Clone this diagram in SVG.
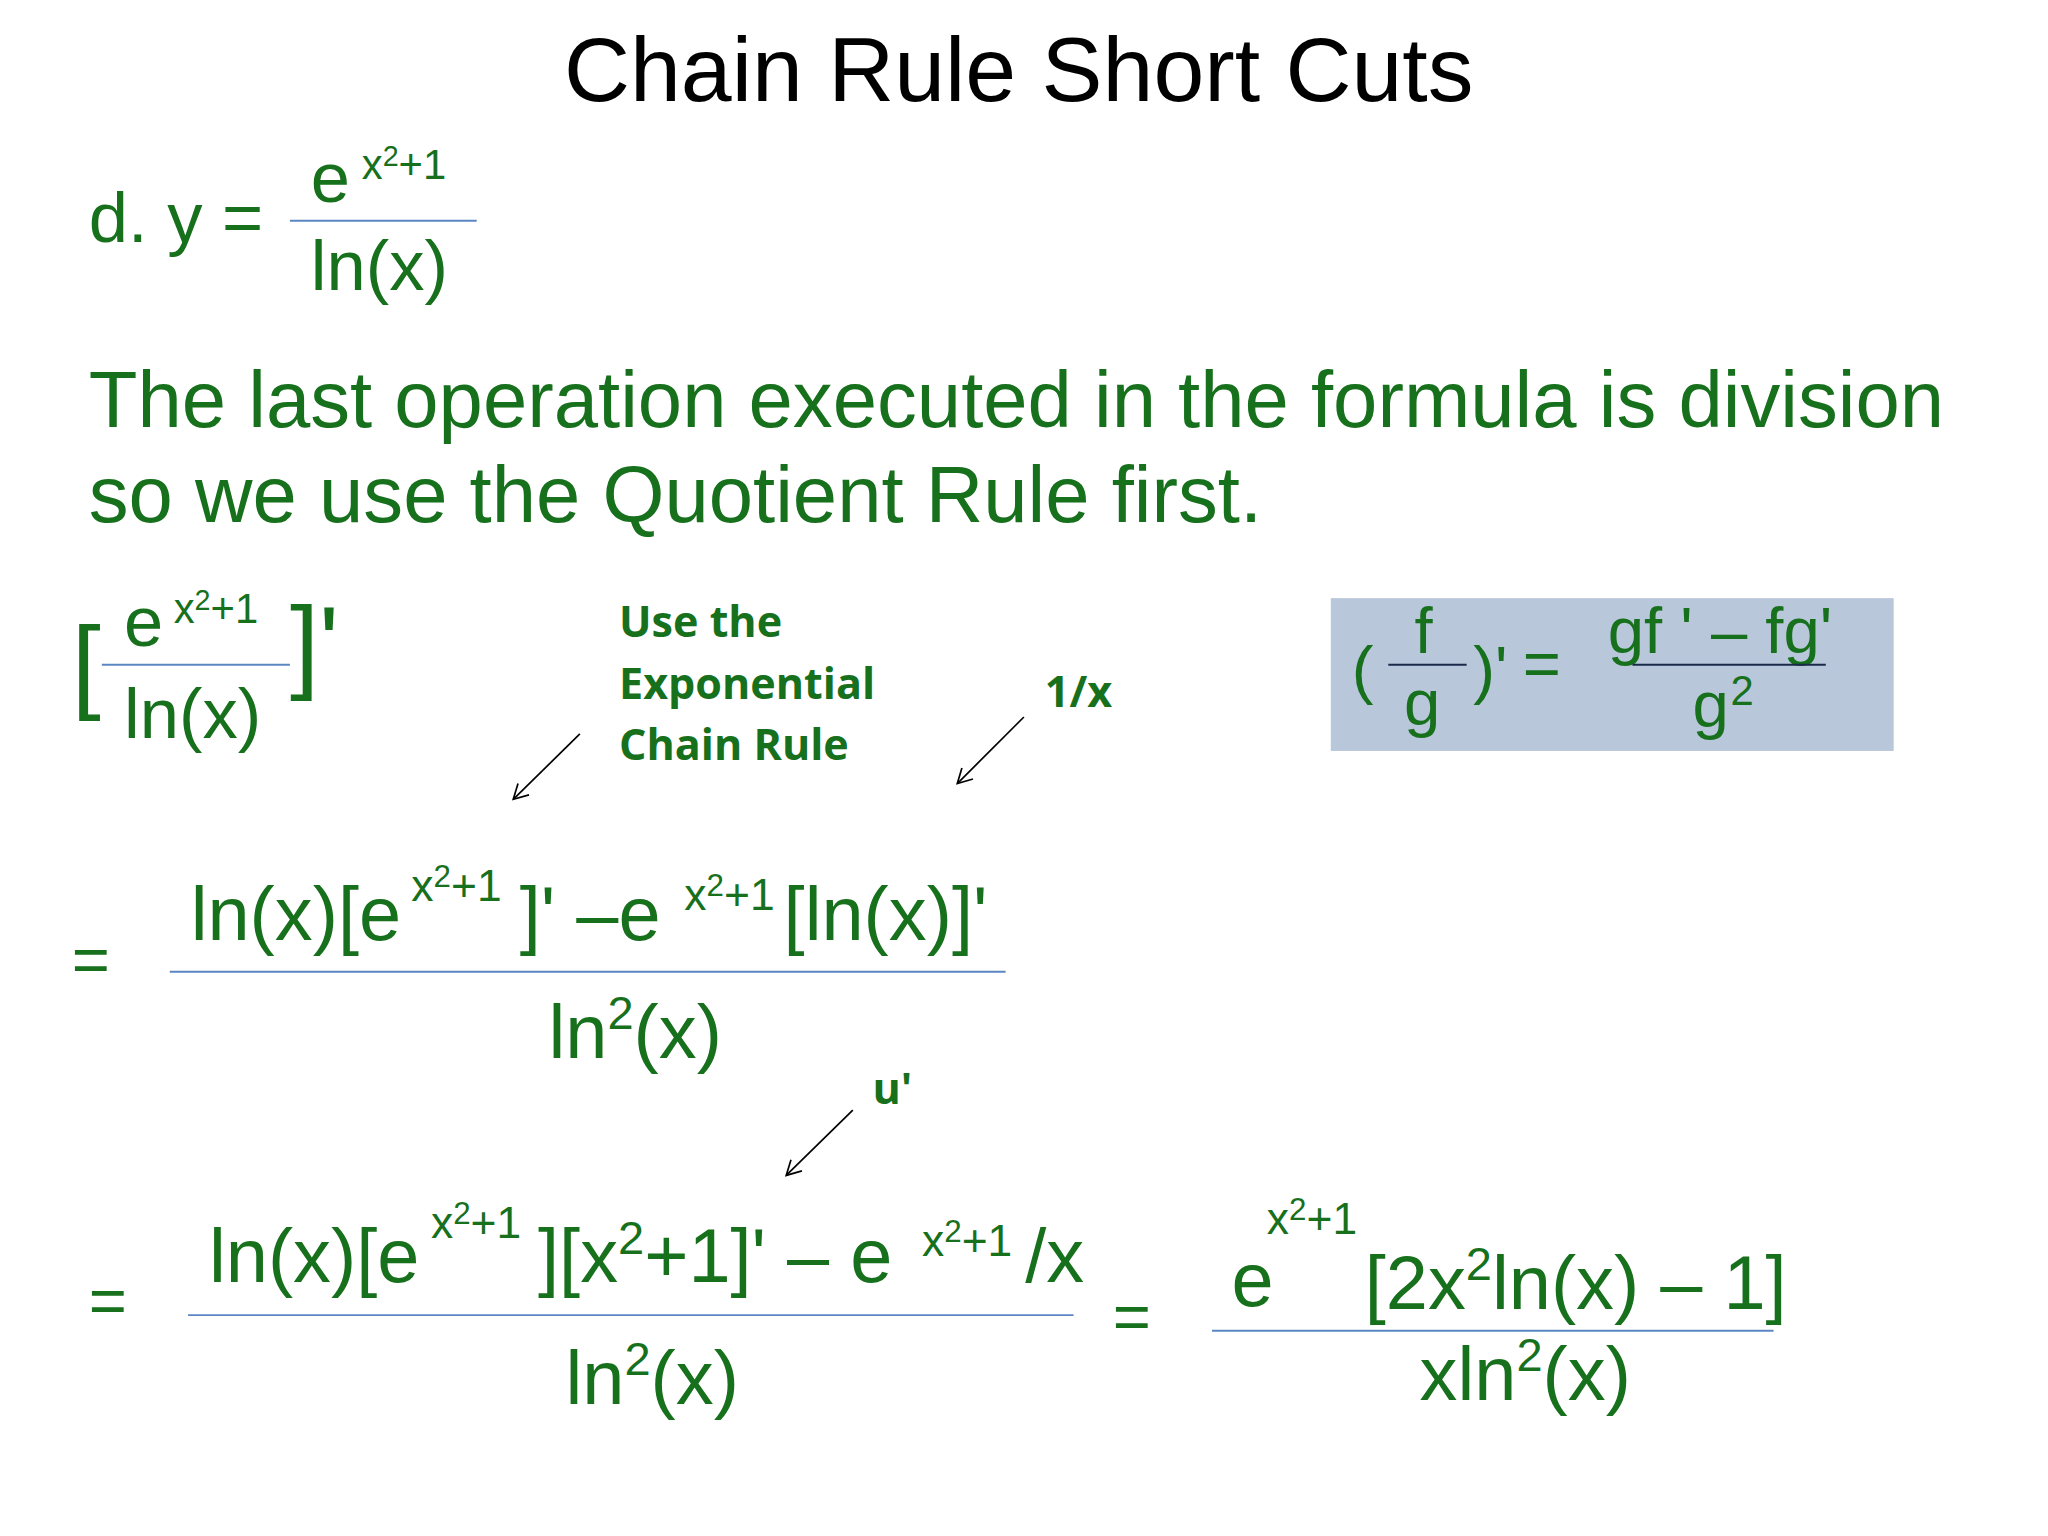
<svg xmlns="http://www.w3.org/2000/svg" width="2048" height="1536" viewBox="0 0 2048 1536">
<style>
.g{font-family:"Liberation Sans",Arial,sans-serif;fill:#17701c}
.b{font-family:"Open Sans","Liberation Sans",sans-serif;font-weight:bold;fill:#17701c;font-size:33px}
.fl{stroke:#5b86c4;stroke-width:1.5}
.ar{stroke:#000;stroke-width:1.3;fill:none;marker-end:url(#ah)}
</style>
<defs><marker id="ah" markerWidth="14" markerHeight="14" refX="12" refY="7" orient="auto" markerUnits="userSpaceOnUse"><path d="M1,1 L12,7 L1,13" fill="none" stroke="#000" stroke-width="1.3"/></marker></defs>
<rect width="2048" height="1536" fill="#fff"/>
<g transform="scale(1.306)">
<text x="780" y="77" font-family="Liberation Sans,Arial,sans-serif" font-size="70" text-anchor="middle" fill="#000">Chain Rule Short Cuts</text>
<g id="q">
<text class="g" x="68" y="185" font-size="54">d. y =</text>
<text class="g" x="238" y="155" font-size="54">e</text>
<text class="g" x="277" y="137" font-size="32">x<tspan font-size="22" dy="-10">2</tspan><tspan dy="10">+1</tspan></text>
<line class="fl" x1="222" y1="169" x2="365" y2="169"/>
<text class="g" x="238" y="222" font-size="54">ln(x)</text>
</g>
<g id="para">
<text class="g" x="68" y="327" font-size="61">The last operation executed in the formula is division</text>
<text class="g" x="68" y="400" font-size="61">so we use the Quotient Rule first.</text>
</g>
<g id="br">
<text class="g" x="55" y="535" font-size="80">[</text>
<text class="g" x="95" y="495" font-size="54">e</text>
<text class="g" x="133" y="477" font-size="32">x<tspan font-size="22" dy="-10">2</tspan><tspan dy="10">+1</tspan></text>
<line class="fl" x1="78" y1="509" x2="222" y2="509"/>
<text class="g" x="95" y="565" font-size="54">ln(x)</text>
<text class="g" x="222" y="520" font-size="80">]'</text>
</g>
<g id="labels">
<text class="b" x="474" y="488">Use the</text>
<text class="b" x="474" y="535">Exponential</text>
<text class="b" x="474" y="582">Chain Rule</text>
<text class="b" x="800" y="541">1/x</text>
<text class="b" x="668" y="845">u'</text>
</g>
<g id="box">
<rect x="1019" y="458" width="431" height="117" fill="#b9c7da"/>
<text class="g" x="1035" y="530" font-size="50">(</text>
<text class="g" x="1083" y="500" font-size="50">f</text>
<line x1="1063" y1="509" x2="1123" y2="509" stroke="#1a2a4a" stroke-width="1.5"/>
<text class="g" x="1075" y="555" font-size="50">g</text>
<text class="g" x="1128" y="530" font-size="50">)'</text>
<text class="g" x="1166" y="525" font-size="50">=</text>
<text class="g" x="1231" y="500" font-size="50">gf ' – fg'</text>
<line x1="1250" y1="509" x2="1398" y2="509" stroke="#1a2a4a" stroke-width="1.5"/>
<text class="g" x="1296" y="557" font-size="50">g</text>
<text class="g" x="1325" y="540" font-size="32">2</text>
</g>
<g id="l1">
<text class="g" x="55" y="752" font-size="50">=</text>
<text class="g" x="146" y="720" font-size="58">ln(x)[e</text>
<text class="g" x="315" y="690" font-size="34">x<tspan font-size="24" dy="-11">2</tspan><tspan dy="11">+1</tspan></text>
<text class="g" x="398" y="720" font-size="58">]' –e</text>
<text class="g" x="524" y="697" font-size="34">x<tspan font-size="24" dy="-11">2</tspan><tspan dy="11">+1</tspan></text>
<text class="g" x="600" y="720" font-size="58">[ln(x)]'</text>
<line class="fl" x1="130" y1="744" x2="770" y2="744"/>
<text class="g" x="420" y="810" font-size="58">ln<tspan font-size="36" dy="-22">2</tspan><tspan dy="22">(x)</tspan></text>
</g>
<g id="l2">
<text class="g" x="68" y="1013" font-size="50">=</text>
<text class="g" x="160" y="982" font-size="58">ln(x)[e</text>
<text class="g" x="330" y="948" font-size="34">x<tspan font-size="24" dy="-11">2</tspan><tspan dy="11">+1</tspan></text>
<text class="g" x="412" y="982" font-size="58">][x<tspan font-size="36" dy="-22">2</tspan><tspan dy="22">+1]' – e</tspan></text>
<text class="g" x="706" y="962" font-size="34">x<tspan font-size="24" dy="-11">2</tspan><tspan dy="11">+1</tspan></text>
<text class="g" x="785" y="982" font-size="58">/x</text>
<line class="fl" x1="144" y1="1007" x2="822" y2="1007"/>
<text class="g" x="433" y="1075" font-size="58">ln<tspan font-size="36" dy="-22">2</tspan><tspan dy="22">(x)</tspan></text>
<text class="g" x="852" y="1025" font-size="50">=</text>
<text class="g" x="943" y="1000" font-size="58">e</text>
<text class="g" x="970" y="945" font-size="34">x<tspan font-size="24" dy="-11">2</tspan><tspan dy="11">+1</tspan></text>
<text class="g" x="1045" y="1002" font-size="58">[2x<tspan font-size="36" dy="-22">2</tspan><tspan dy="22">ln(x) – 1]</tspan></text>
<line class="fl" x1="928" y1="1019" x2="1358" y2="1019"/>
<text class="g" x="1087" y="1072" font-size="58">xln<tspan font-size="36" dy="-22">2</tspan><tspan dy="22">(x)</tspan></text>
</g>
<g id="connectors">
<line class="ar" x1="444" y1="562" x2="393" y2="612"/>
<line class="ar" x1="784" y1="549" x2="733" y2="600"/>
<line class="ar" x1="653" y1="850" x2="602" y2="900"/>
</g>
</g>
</svg>
